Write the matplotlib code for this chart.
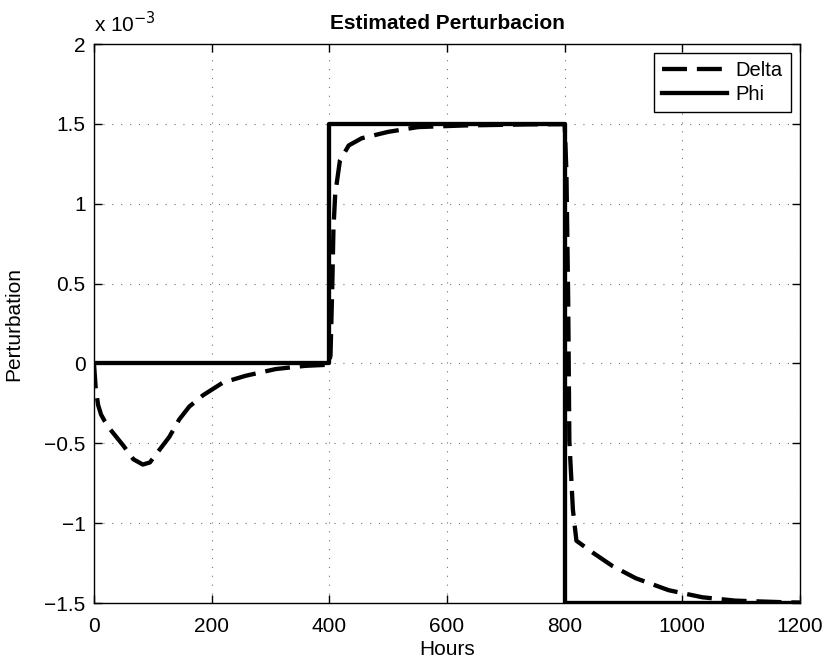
import matplotlib.pyplot as plt
from matplotlib.ticker import FuncFormatter

plt.rcParams['font.family'] = ['Liberation Sans', 'DejaVu Sans']

# Delta (estimated), values in units of 1e-3
delta_x = [0, 3, 7, 12, 18, 27, 50, 67, 83, 95, 128, 145, 162, 185, 219, 258, 309, 359, 399,
           402, 405, 407, 410, 418, 433, 455, 500, 551, 629, 741, 800,
           803, 806, 808, 814, 820, 848, 882, 921, 977, 1034, 1090, 1180, 1200]
delta_y = [0, -0.16, -0.26, -0.32, -0.36, -0.41, -0.515, -0.60, -0.633, -0.62, -0.46, -0.35,
           -0.27, -0.20, -0.12, -0.077, -0.035, -0.015, -0.008,
           0.05, 0.48, 0.84, 1.06, 1.27, 1.365, 1.41, 1.45, 1.48, 1.49, 1.497, 1.498,
           1.2, 0.4, -0.485, -0.915, -1.11, -1.185, -1.27, -1.345, -1.42, -1.464, -1.485,
           -1.496, -1.497]

# Phi (step disturbance)
phi_x = [0, 400, 400, 800, 800, 1200]
phi_y = [0, 0, 1.5, 1.5, -1.5, -1.5]

fig = plt.figure(figsize=(8.34, 6.65), dpi=100)
ax = fig.add_axes([0.1127, 0.0932, 0.8465, 0.8406])

ax.plot(delta_x, delta_y, color='black', lw=3.1, dashes=(5.8, 2.3), label='Delta')
ax.plot(phi_x, phi_y, color='black', lw=3.1, label='Phi')

ax.set_xlim(0, 1200)
ax.set_ylim(-1.5, 2)
ax.set_xticks([0, 200, 400, 600, 800, 1000, 1200])
ax.set_yticks([-1.5, -1, -0.5, 0, 0.5, 1, 1.5, 2])
ax.yaxis.set_major_formatter(FuncFormatter(lambda v, p: ('%g' % v).replace('-', '\u2212')))
ax.tick_params(direction='in', top=True, right=True, labelsize=15, length=6, width=1)
ax.tick_params(axis='x', pad=10)
ax.tick_params(axis='y', pad=6)
ax.grid(True, color='0.45', linestyle=(0, (1, 7)), lw=0.8)
for s in ax.spines.values():
    s.set_linewidth(1.0)

ax.set_title('Estimated Perturbacion', fontsize=15, fontweight='bold', pad=11)
ax.set_xlabel('Hours', fontsize=15, labelpad=3)
ax.set_ylabel('Perturbation', fontsize=15)
ax.yaxis.set_label_coords(-0.1, 0.5)
ax.text(0.0, 1.014, 'x 10$^{\u22123}$', transform=ax.transAxes, fontsize=15, va='bottom')

leg = ax.legend(loc='upper right', fontsize=14.5, handlelength=3.2, handletextpad=0.45,
                fancybox=False, framealpha=1, edgecolor='black', borderpad=0.4,
                labelspacing=0.25, borderaxespad=0.45)
leg.get_frame().set_linewidth(1.0)

fig.savefig('out.png', dpi=100)
